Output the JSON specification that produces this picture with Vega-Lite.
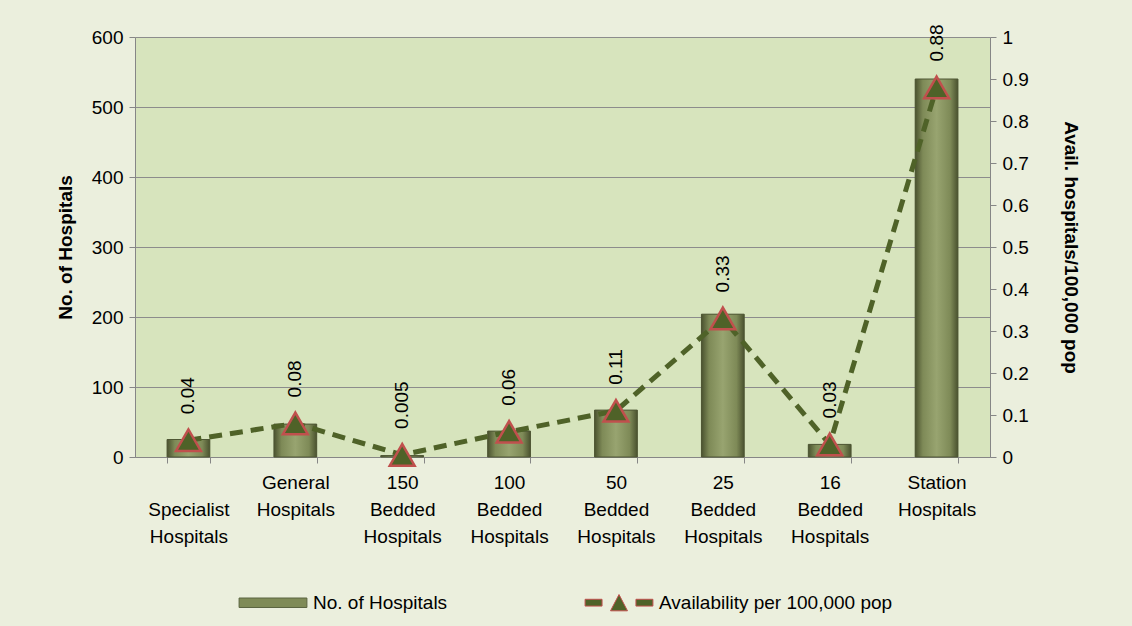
{
  "$schema": "https://vega.github.io/schema/vega-lite/v6.json",
  "width": 855,
  "height": 420,
  "autosize": "none",
  "padding": {"left": 135, "top": 37, "right": 142, "bottom": 169},
  "background": "#EBEFDD",
  "config": {
    "font": "Liberation Sans",
    "view": {"fill": "#D7E4BD", "stroke": null},
    "axis": {
      "labelFont": "Liberation Sans",
      "titleFont": "Liberation Sans",
      "labelFontSize": 19,
      "labelColor": "#000000",
      "titleColor": "#000000",
      "domainColor": "#868686",
      "tickColor": "#868686",
      "gridColor": "#8C8C8C",
      "tickSize": 6,
      "gridOpacity": 1
    },
    "legend": {"labelFont": "Liberation Sans", "labelFontSize": 19, "labelColor": "#000000", "padding": 0, "labelLimit": 0}
  },
  "data": {
    "values": [
      {"category": "Specialist Hospitals", "hospitals": 25, "avail": 0.04, "avail_label": "0.04"},
      {"category": "General Hospitals", "hospitals": 47, "avail": 0.08, "avail_label": "0.08"},
      {"category": "150 Bedded Hospitals", "hospitals": 2, "avail": 0.005, "avail_label": "0.005"},
      {"category": "100 Bedded Hospitals", "hospitals": 37, "avail": 0.06, "avail_label": "0.06"},
      {"category": "50 Bedded Hospitals", "hospitals": 67, "avail": 0.11, "avail_label": "0.11"},
      {"category": "25 Bedded Hospitals", "hospitals": 204, "avail": 0.33, "avail_label": "0.33"},
      {"category": "16 Bedded Hospitals", "hospitals": 18, "avail": 0.03, "avail_label": "0.03"},
      {"category": "Station Hospitals", "hospitals": 540, "avail": 0.88, "avail_label": "0.88"}
    ]
  },
  "encoding": {
    "x": {
      "field": "category",
      "type": "nominal",
      "sort": null,
      "scale": {"paddingInner": 0.6, "paddingOuter": 0.3},
      "axis": {
        "title": null,
        "labelAngle": 0,
        "tickBand": "extent",
        "labelPadding": {"condition": {"test": "datum.value == 'Specialist Hospitals'", "value": 37}, "value": 10},
        "labelLineHeight": 27,
        "labelBaseline": "top",
        "labelLimit": 0,
        "labelExpr": "isString(datum.value) ? split(datum.value, ' ') : ''"
      }
    }
  },
  "layer": [
    {
      "encoding": {
        "y": {
          "field": "hospitals",
          "type": "quantitative",
          "scale": {"domain": [0, 600], "nice": false},
          "axis": {
            "title": "No. of Hospitals",
            "titleFontSize": 19,
            "titleFontWeight": "bold",
            "titlePadding": 16,
            "values": [0, 100, 200, 300, 400, 500, 600],
            "grid": true,
            "labelPadding": 6
          }
        }
      },
      "layer": [
        {
          "mark": {"type": "bar"},
          "encoding": {
            "color": {
              "datum": "No. of Hospitals",
              "scale": {
                "domain": ["No. of Hospitals", "Availability per 100,000 pop"],
                "range": ["#7F8B57", "#4F6228"]
              },
              "legend": {
                "title": null,
                "orient": "none",
                "direction": "horizontal",
                "legendX": 103,
                "legendY": 531,
                "columnPadding": 135,
                "labelOffset": 6,
                "symbolSize": 100,
                "encode": {
                  "symbols": {
                    "update": {
                      "shape": {"signal": "datum.value == 'No. of Hospitals' ? 'M-1,-0.14H1V0.14H-1Z' : 'M-1,-0.1H-0.5V0.1H-1Z M0.5,-0.1H1V0.1H0.5Z M-0.25,0.24L0,-0.24L0.25,0.24Z'"},
                      "size": {"value": 4600},
                      "xc": {"value": 35},
                      "stroke": {"signal": "datum.value == 'No. of Hospitals' ? '#5B6540' : '#C0504D'"},
                      "strokeWidth": {"value": 1},
                      "opacity": {"value": 1}
                    }
                  }
                }
              }
            }
          }
        },
        {
          "mark": {
            "type": "bar",
            "stroke": "#4E5634",
            "strokeWidth": 1,
            "fill": {
              "x1": 0, "y1": 0, "x2": 1, "y2": 0,
              "gradient": "linear",
              "stops": [
                {"offset": 0, "color": "#4A522F"},
                {"offset": 0.18, "color": "#7E8A57"},
                {"offset": 0.5, "color": "#98A470"},
                {"offset": 0.82, "color": "#7E8A57"},
                {"offset": 1, "color": "#4A522F"}
              ]
            }
          },
          "encoding": {}
        }
      ]
    },
    {
      "encoding": {
        "y": {
          "field": "avail",
          "type": "quantitative",
          "scale": {"domain": [0, 1], "nice": false},
          "axis": {
            "orient": "right",
            "title": "Avail. hospitals/100,000 pop",
            "titleFontSize": 19,
            "titleFontWeight": "bold",
            "titlePadding": 32,
            "values": [0, 0.1, 0.2, 0.3, 0.4, 0.5, 0.6, 0.7, 0.8, 0.9, 1],
            "format": "~g",
            "grid": false,
            "labelPadding": 6
          }
        }
      },
      "layer": [
        {
          "mark": {"type": "line", "color": "#4F6228", "strokeWidth": 5, "strokeDash": [13, 8]},
          "encoding": {}
        },
        {
          "mark": {"type": "point", "shape": "triangle-up", "filled": true, "size": 620, "stroke": "#C0504D", "strokeWidth": 2.5, "opacity": 1},
          "encoding": {
            "color": {"datum": "Availability per 100,000 pop"}
          }
        },
        {
          "mark": {"type": "text", "angle": 270, "align": "left", "baseline": "middle", "dx": 26, "fontSize": 19, "font": "Liberation Sans", "color": "#000000"},
          "encoding": {
            "text": {"field": "avail_label"}
          }
        }
      ]
    }
  ],
  "resolve": {"scale": {"y": "independent"}}
}
